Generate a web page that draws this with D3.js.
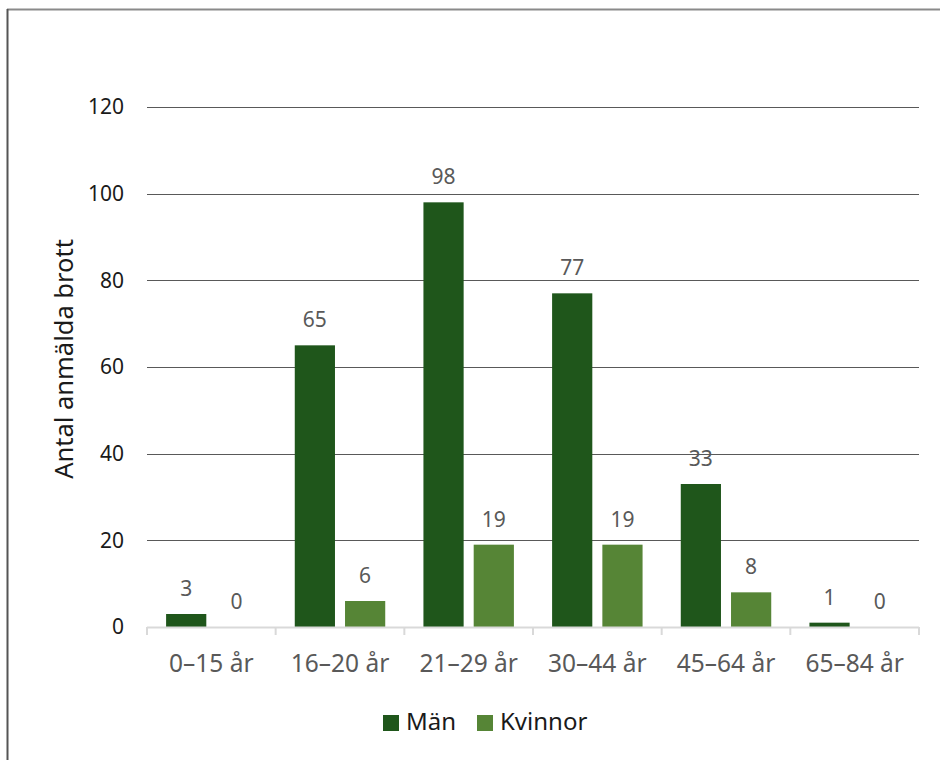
<!DOCTYPE html>
<html><head><meta charset="utf-8">
<script src="https://cdn.jsdelivr.net/npm/d3@7"></script>
<style>body{margin:0;background:#fff}svg{display:block}text{font-family:"Noto Sans","Open Sans",sans-serif}</style>
</head><body><svg id="c" width="940" height="760"></svg>
<script>
const categories = ["0–15 år","16–20 år","21–29 år","30–44 år","45–64 år","65–84 år"];
const seriesNames = ["Män","Kvinnor"];
const man = [3,65,98,77,33,1];
const kvinnor = [0,6,19,19,8,0];
const yTicks = [0,20,40,60,80,100,120];
const colors = ["#1f561b","#568536"];

const svg = d3.select("#c");
// frame
svg.append("line").attr("x1",7).attr("x2",940).attr("y1",9.5).attr("y2",9.5).attr("stroke","#8a8a8a").attr("stroke-width",2);
svg.append("line").attr("x1",7.5).attr("x2",7.5).attr("y1",9).attr("y2",760).attr("stroke","#555").attr("stroke-width",2);

const x = d3.scaleBand().domain(categories).range([147,919]).paddingInner(0).paddingOuter(0);
const y = d3.scaleLinear().domain([0,120]).range([627,107]);
const sub = d3.scaleBand().domain(seriesNames).range([0,x.bandwidth()]).paddingInner(0.2).paddingOuter(0.38);

// grid
svg.append("g").selectAll("line").data(yTicks.filter(t=>t>0)).join("line")
  .attr("x1",147).attr("x2",919).attr("y1",d=>Math.round(y(d))+0.5).attr("y2",d=>Math.round(y(d))+0.5)
  .attr("stroke","#595959").attr("stroke-width",1);
// y labels
svg.append("g").selectAll("text").data(yTicks).join("text")
  .attr("x",124).attr("y",d=>y(d)).attr("dy","0.35em").attr("text-anchor","end")
  .attr("font-size",21).attr("fill","#1a1a1a").text(d=>d);
// y title
svg.append("text").attr("transform","translate(73,359) rotate(-90)").attr("text-anchor","middle")
  .attr("font-size",25.5).attr("fill","#1a1a1a").text("Antal anmälda brott");

const data = [man,kvinnor];
data.forEach((vals,si)=>{
  const g = svg.append("g");
  g.selectAll("rect").data(vals).join("rect")
    .attr("x",(d,i)=>x(categories[i])+sub(seriesNames[si]))
    .attr("width",sub.bandwidth())
    .attr("y",d=>y(d)).attr("height",d=>y(0)-y(d)).attr("fill",colors[si]);
  g.selectAll("text").data(vals).join("text")
    .attr("x",(d,i)=>x(categories[i])+sub(seriesNames[si])+sub.bandwidth()/2)
    .attr("y",d=>y(d)-18).attr("text-anchor","middle")
    .attr("font-size",21).attr("fill","#595959").text(d=>d);
});

// x axis
const xa = svg.append("g");
xa.append("line").attr("x1",147).attr("x2",919).attr("y1",627.5).attr("y2",627.5).attr("stroke","#d9d9d9").attr("stroke-width",2);
const edges = categories.map(c=>x(c)).concat([x.range()[1]]);
xa.selectAll("line.t").data(edges).join("line").attr("class","t")
  .attr("x1",d=>d).attr("x2",d=>d).attr("y1",627).attr("y2",635).attr("stroke","#d9d9d9").attr("stroke-width",2);
xa.selectAll("text").data(categories).join("text")
  .attr("x",d=>x(d)+x.bandwidth()/2).attr("y",672).attr("text-anchor","middle")
  .attr("font-size",24.5).attr("fill","#595959").text(d=>d);

// legend
const leg = svg.append("g");
const legX = [383,477];
seriesNames.forEach((n,i)=>{
  leg.append("rect").attr("x",legX[i]).attr("y",715).attr("width",16).attr("height",16).attr("fill",colors[i]);
  leg.append("text").attr("x",legX[i]+23).attr("y",730).attr("font-size",24).attr("fill","#1a1a1a").text(n);
});
</script></body></html>
